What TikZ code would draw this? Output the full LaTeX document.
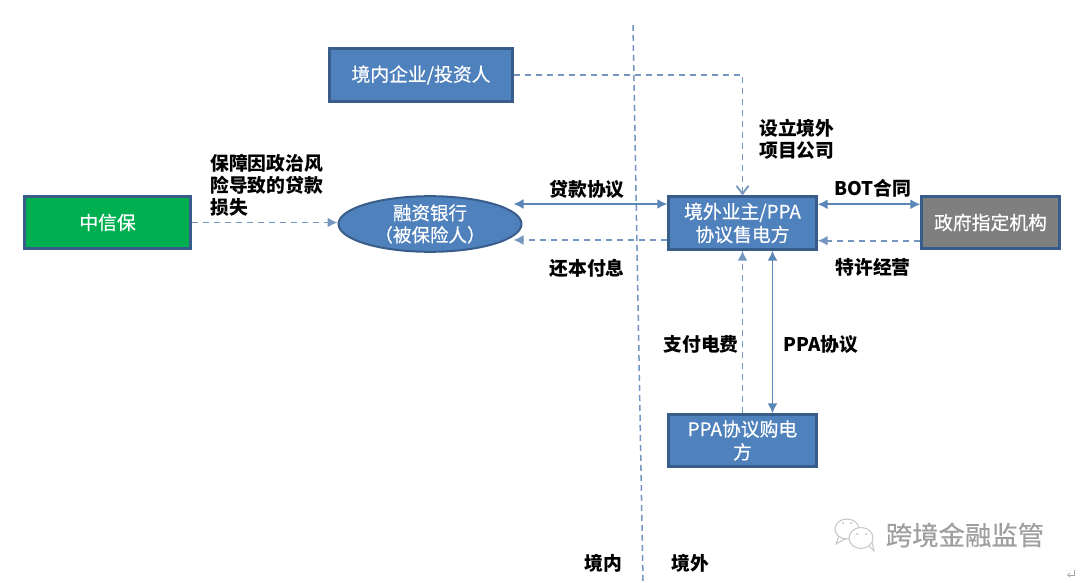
\documentclass[tikz,border=0pt]{standalone}
\usepackage{fontspec}
\setmainfont{Noto Sans CJK SC}
\newfontfamily\boxfont[FakeBold=0.5]{Noto Sans CJK SC}
\usetikzlibrary{arrows.meta,shapes.geometric}
\definecolor{boxblue}{HTML}{4F81BD}
\definecolor{boxedge}{HTML}{385D8A}
\definecolor{boxgreen}{HTML}{00B050}
\definecolor{boxgray}{HTML}{7F7F7F}
\definecolor{linkblue}{HTML}{5B86B8}
\definecolor{dashblue}{HTML}{7496C0}
\tikzset{
  box/.style={rectangle,draw=boxedge,line width=2.4pt,fill=boxblue,text=white,inner sep=0pt,align=center,font=\boxfont\fontsize{18.8}{23}\selectfont},
  oval/.style={ellipse,draw=boxedge,line width=2pt,fill=boxblue,text=white,inner sep=0pt,align=center,font=\boxfont\fontsize{18.5}{22}\selectfont},
  lab/.style={text=black,inner sep=0pt,align=left,font=\fontsize{18.8}{22}\selectfont\bfseries},
  solidlink/.style={draw=linkblue,line width=1.7pt,{Latex[length=10pt,width=10pt]}-{Latex[length=10pt,width=10pt]}},
  dashlink/.style={draw=dashblue,line width=1.8pt,dash pattern=on 6pt off 5pt,-{Latex[length=10pt,width=10pt]}},
  openlink/.style={draw=dashblue,line width=1.8pt,dash pattern=on 6pt off 5pt,-{Straight Barb[length=8pt,width=12pt]}},
  borderline/.style={draw=dashblue,line width=1.5pt,dash pattern=on 6pt off 4pt},
  wmark/.style={text=gray!75,inner sep=0pt,font=\boxfont\fontsize{26.4}{26}\selectfont}
}
\begin{document}
\begin{tikzpicture}[x=1pt,y=-1pt]
\useasboundingbox[fill=white] (0,0) rectangle (1080,583);
% border line
\coordinate (bt) at (633,25);
\coordinate (bb) at (643,581);
\draw[borderline] (bt) -- (bb);
% boxes
\node[box,minimum width=183pt,minimum height=53pt] (investor) at (421,75) {境内企业/投资人};
\node[box,fill=boxgreen,minimum width=166pt,minimum height=52pt] (sinosure) at (107.5,222.5) {中信保};
\node[oval,minimum width=183pt,minimum height=53pt] (bank) at (430,224) {融资银行\\（被保险人）};
\node[box,minimum width=148pt,minimum height=53pt] (owner) at (742.5,223) {境外业主/PPA\\协议售电方};
\node[box,fill=boxgray,minimum width=138pt,minimum height=52pt] (gov) at (990.5,222.5) {政府指定机构};
\node[box,minimum width=148pt,minimum height=52pt] (buyer) at (742.5,440.5) {PPA协议购电\\方};
% free ends beside the ellipse
\coordinate (bankup) at ([xshift=-9pt,yshift=20pt]bank.east);
\coordinate (banklow) at ([xshift=-9pt,yshift=-16pt]bank.east);
% connectors
\draw[openlink] (investor.east) -| (owner.north);
\draw[dashlink] (sinosure.east) -- (sinosure.east -| bank.west);
\draw[solidlink] (bankup) -- (bankup -| owner.west);
\draw[dashlink] (banklow -| owner.west) -- (banklow);
\draw[solidlink] ([yshift=-9pt]owner.north east) -- ([yshift=-9pt]owner.north east -| gov.west);
\draw[dashlink] ([yshift=9pt]gov.south west) -- ([yshift=9pt]gov.south west -| owner.east);
\draw[dashlink] (buyer.north) -- (owner.south);
\draw[solidlink] ([xshift=30pt]owner.south) -- ([xshift=30pt]buyer.north);
% labels
\node[lab,anchor=north west] (lgua) at (210,154) {保障因政治风\\险导致的贷款\\损失};
\node[lab] (lloan) at (587,189) {贷款协议};
\node[lab] (lrepay) at (587,268) {还本付息};
\node[lab] (lbot) at (873,188) {BOT合同};
\node[lab] (lfran) at (873,267) {特许经营};
\node[lab,anchor=north west] (lset) at (759,119) {设立境外\\项目公司};
\node[lab] (lpay) at (701,344) {支付电费};
\node[lab] (lppa) at (821,344) {PPA协议};
\node[lab] (lin) at (603,563) {境内};
\node[lab] (lout) at (690,563) {境外};
% watermark
\node[wmark] (wm) at (965,535) {跨境金融监管};
\draw[gray!45,line width=1pt,fill=white] (847,529) ellipse (12pt and 10pt);
\draw[gray!45,line width=1pt,fill=white] (861,538) ellipse (12pt and 10.5pt);
\fill[gray!55] (843,523) circle (1pt) (851,523) circle (1pt) (857,534) circle (1pt) (866,534) circle (1pt);
\draw[gray!45,line width=1pt] (839,536) -- (836,544) -- (845,539);
\draw[gray!45,line width=1pt] (869,546) -- (874,551) -- (872,542);
\draw[gray!70,line width=.7pt,-{Straight Barb[length=2.5pt,width=4pt]}] (1074,570) -- (1074,575) -- (1067,575);
\end{tikzpicture}
\end{document}
